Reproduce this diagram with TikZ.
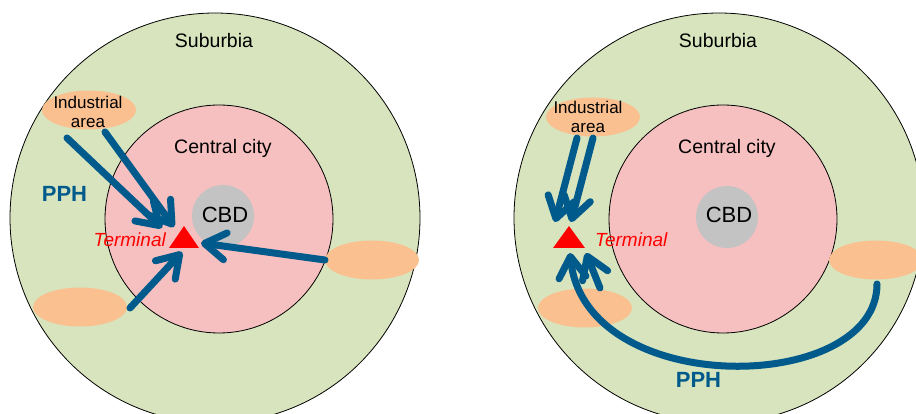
\documentclass[tikz,border=0pt]{standalone}
\usepackage{fontspec}
\setmainfont{Liberation Sans}
\usetikzlibrary{arrows.meta,shapes.geometric}
\definecolor{suburb}{HTML}{D7E4BD}
\definecolor{city}{HTML}{F7C0C0}
\definecolor{zone}{HTML}{FAC090}
\definecolor{cbd}{HTML}{C3C3C3}
\definecolor{flow}{HTML}{005A8C}
\definecolor{termred}{HTML}{FF0000}
\tikzset{
  ring/.style={circle, draw=black, line width=0.8pt, inner sep=0pt},
  outerring/.style={ring, fill=suburb, minimum size=410pt},
  cityring/.style={ring, fill=city, minimum size=228pt},
  cbdring/.style={circle, fill=cbd, minimum size=62pt, inner sep=0pt},
  areablob/.style={ellipse, fill=zone, minimum width=94pt, minimum height=39pt, inner sep=0pt},
  lbl/.style={inner sep=0pt, font=\fontsize{19.5}{22}\selectfont},
  cbdlbl/.style={inner sep=0pt, font=\fontsize{22}{24}\selectfont},
  arealbl/.style={inner sep=0pt, align=center, font=\fontsize{17}{19}\selectfont},
  termlbl/.style={inner sep=0pt, text=termred, font=\itshape\fontsize{19}{22}\selectfont},
  pphlbl/.style={inner sep=0pt, text=flow, font=\bfseries\fontsize{22}{24}\selectfont},
  flowarrow/.style={draw=flow, line width=7pt, line cap=round,
    -{Straight Barb[length=21pt, width=27pt, round]}},
  termmark/.style={fill=termred},
}
\begin{document}
\begin{tikzpicture}[x=1pt, y=-1pt]
  \useasboundingbox (0,0) rectangle (916,414);
  \clip (0,0) rectangle (916,414);

  % ---------- first city model: direct flows ----------
  \node[outerring] (subA) at (215,218) {};
  \node[cityring] (cityA) at (219,219) {};
  \node[cbdring] (cbdA) at (223,216) {};
  \node[areablob] (indA) at (89,110) {};
  \node[areablob] (swA) at (80,307) {};
  \node[areablob] (eA) at (372,260) {};

  \node[lbl, anchor=base] (subtxtA) at (214,48) {Suburbia};
  \node[lbl, anchor=base] (citytxtA) at (223,154) {Central city};
  \node[cbdlbl, anchor=base] (cbdtxtA) at (225,223) {CBD};
  \node[arealbl] (indtxtA) at (88,112) {Industrial\\area};
  \node[pphlbl, anchor=base] (pphA) at (64.5,202) {PPH};

  \fill[termmark] (169,248) -- (199,248) -- (184,226) -- cycle;
  \node[termlbl, anchor=base east] (termtxtA) at (166,247) {Terminal};

  \coordinate (a1s) at (67,138);   \coordinate (a1e) at (162,228);
  \coordinate (a2s) at (105,132);  \coordinate (a2e) at (174,227);
  \coordinate (a3s) at (130,308);  \coordinate (a3e) at (182,252);
  \coordinate (a4s) at (325,260);  \coordinate (a4e) at (201,243);
  \draw[flowarrow] (a1s) -- (a1e);
  \draw[flowarrow] (a2s) -- (a2e);
  \draw[flowarrow] (a3s) -- (a3e);
  \draw[flowarrow] (a4s) -- (a4e);

  % ---------- second city model: terminal in the suburbs ----------
  \node[outerring] (subB) at (719,218) {};
  \node[cityring] (cityB) at (723,219) {};
  \node[cbdring] (cbdB) at (727,217) {};
  \node[areablob] (indB) at (593,117) {};
  \node[areablob] (swB) at (585,308) {};
  \node[areablob] (eB) at (876,260) {};

  \node[lbl, anchor=base] (subtxtB) at (718,48) {Suburbia};
  \node[lbl, anchor=base] (citytxtB) at (727,154) {Central city};
  \node[cbdlbl, anchor=base] (cbdtxtB) at (729,223) {CBD};
  \node[arealbl] (indtxtB) at (588,117) {Industrial\\area};
  \node[pphlbl, anchor=base] (pphB) at (698.5,387) {PPH};

  \fill[termmark] (553,248) -- (585,248) -- (569,226) -- cycle;
  \node[termlbl, anchor=base west] (termtxtB) at (595,247) {Terminal};

  \coordinate (b1s) at (577,138);  \coordinate (b1e) at (555,222);
  \coordinate (b2s) at (593,138);  \coordinate (b2e) at (571,222);
  \coordinate (b3s) at (600,288);  \coordinate (b3e) at (586,253);
  \coordinate (b4s) at (877,284);  \coordinate (b4e) at (570,253);
  \draw[flowarrow] (b1s) -- (b1e);
  \draw[flowarrow] (b2s) -- (b2e);
  \draw[flowarrow] (b3s) -- (b3e);
  \draw[flowarrow] (b4s) .. controls (877,395) and (585,400) .. (b4e);
\end{tikzpicture}
\end{document}
